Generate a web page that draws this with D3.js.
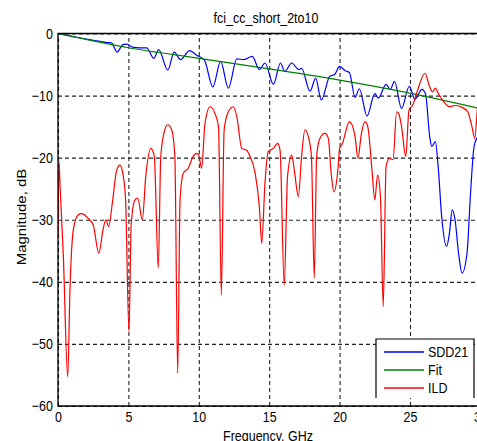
<!DOCTYPE html>
<html>
<head>
<meta charset="utf-8">
<script src="https://cdn.jsdelivr.net/npm/d3@7"></script>
<style>
  body { margin: 0; background: #fff; }
  svg { display: block; font-family: "Liberation Sans", Arial, sans-serif; }
</style>
</head>
<body>
<div class="canvas"></div>
<script>
const title = "fci_cc_short_2to10";
const xTicks = [0, 5, 10, 15, 20, 25, 30];
const yTicks = [-60, -50, -40, -30, -20, -10, 0];
const seriesNames = ["SDD21", "Fit", "ILD"];

const sddFreq = [0, 1, 2, 2.5, 3, 3.5, 3.8, 4.2, 4.6, 4.9, 5.3, 5.8, 6.3, 6.8, 7.15, 7.8, 8.25, 8.7, 9.35, 9.85, 10.4, 11, 11.55, 12.1, 12.7, 13.2, 13.8, 14.3, 14.7, 15.3, 15.8, 16.1, 16.6, 17.1, 17.3, 17.9, 18.3, 18.7, 19.3, 19.65, 20, 20.4, 20.7, 21.1, 21.4, 21.95, 22.5, 22.75, 23.3, 23.6, 23.9, 24.4, 24.95, 25.35, 25.85, 26.1, 26.4, 26.55, 26.8, 27, 27.25, 27.6, 27.8, 28, 28.2, 28.45, 28.7, 29.05, 29.3, 29.55, 29.8, 30];
const sddDb = [0, -0.45, -0.9, -1.1, -1.25, -1.45, -1.5, -3.0, -1.8, -1.7, -2.2, -2.3, -2.3, -4.0, -2.6, -5.9, -3.0, -4.2, -2.75, -3.5, -4.3, -8.6, -4.5, -8.8, -4.1, -4.2, -3.7, -5.8, -4.75, -8.2, -4.75, -6.1, -4.75, -5.8, -5.6, -9.3, -7.2, -10.7, -6.9, -6.6, -5.3, -6.0, -6.3, -10.3, -8.9, -13.3, -9.7, -10.4, -8.2, -9.0, -7.7, -12.1, -8.5, -10.6, -9.0, -9.7, -16.6, -18.2, -17.4, -21.4, -29.5, -34.3, -32.2, -28.4, -30.0, -35.4, -38.6, -35.4, -25.7, -18.2, -16.6, -15.5];

const fitFreq = [0, 2.5, 5, 10, 15, 20, 25, 30];
const fitDb = [0, -1.2, -2.3, -4.0, -5.7, -7.5, -9.6, -12.1];

const ildFreq = [0, 0.07, 0.15, 0.38, 0.69, 0.85, 1.09, 1.44, 1.68, 2.15, 2.5, 2.9, 3.2, 3.4, 3.6, 3.86, 4.17, 4.4, 4.6, 4.8, 5.04, 5.2, 5.47, 5.66, 5.99, 6.23, 6.6, 6.84, 7.12, 7.3, 7.55, 7.79, 8.07, 8.3, 8.5, 8.67, 8.9, 9.25, 9.6, 9.85, 10, 10.2, 10.44, 10.8, 11.15, 11.4, 11.6, 11.8, 12.1, 12.45, 12.7, 13.05, 13.4, 13.6, 14, 14.3, 14.47, 14.7, 14.94, 15.3, 15.6, 15.77, 16.07, 16.3, 16.6, 16.8, 17.07, 17.3, 17.54, 17.78, 18, 18.2, 18.37, 18.6, 18.96, 19.2, 19.4, 19.6, 19.9, 20, 20.2, 20.7, 21.1, 21.3, 21.55, 21.8, 22, 22.3, 22.5, 22.7, 22.9, 23.1, 23.3, 23.55, 23.8, 24.05, 24.2, 24.4, 24.7, 24.93, 25.2, 25.5, 26.07, 26.35, 26.6, 26.8, 27, 27.4, 27.8, 28.2, 28.6, 29.1, 29.4, 29.6, 29.8, 30];
const ildDb = [-32.7, -20.6, -24.7, -35.9, -55.3, -41.3, -31.6, -29.2, -29.0, -29.8, -30.8, -35.4, -31.6, -30.0, -31.1, -27.3, -22.0, -21.2, -22.5, -26.8, -48.0, -30.6, -26.8, -26.5, -30.0, -23.1, -18.5, -19.8, -37.8, -19.8, -15.8, -14.7, -15.5, -19.8, -54.7, -26.8, -22.5, -21.7, -19.8, -19.3, -19.6, -21.7, -14.5, -11.8, -12.9, -15.0, -42.1, -15.5, -12.6, -11.8, -13.4, -18.5, -18.8, -19.6, -22.5, -27.9, -33.8, -24.1, -19.0, -18.5, -17.7, -18.8, -40.5, -23.1, -19.6, -22.3, -26.3, -19.8, -15.5, -16.6, -19.8, -39.4, -19.8, -16.9, -16.1, -16.9, -22.5, -25.5, -21.4, -18.5, -17.7, -14.2, -16.6, -20.1, -16.1, -14.2, -15.0, -22.0, -26.8, -22.8, -26.3, -44.0, -21.4, -20.1, -20.3, -12.6, -12.9, -15.0, -19.8, -12.3, -11.5, -9.4, -6.4, -8.3, -9.4, -8.8, -9.6, -11.0, -11.8, -11.6, -11.8, -12.6, -15.0, -16.9, -11.8, -9.0];

const dimensions = { width: 477, height: 441 };
const plot = { left: 58, right: 480.4, top: 33.5, bottom: 406 };
const stretch = 1.2;

const svg = d3
  .select(".canvas")
  .append("svg")
  .attr("width", dimensions.width)
  .attr("height", dimensions.height);

const x = d3.scaleLinear().domain([0, 30]).range([plot.left, plot.right]);
const y = d3.scaleLinear().domain([-60, 0]).range([plot.bottom, plot.top]);

const color = d3
  .scaleOrdinal()
  .domain(seriesNames)
  .range(["#0000ff", "#008000", "#ff0000"]);

svg
  .append("defs")
  .append("clipPath")
  .attr("id", "clip")
  .append("rect")
  .attr("x", plot.left)
  .attr("y", plot.top)
  .attr("width", plot.right - plot.left)
  .attr("height", plot.bottom - plot.top);

// dashed grid
const gridX = svg
  .append("g")
  .attr("transform", `translate(0, ${plot.bottom})`)
  .call(
    d3.axisBottom(x).tickValues(xTicks).tickSize(-(plot.bottom - plot.top)).tickFormat("")
  );

const gridY = svg
  .append("g")
  .attr("transform", `translate(${plot.left}, 0)`)
  .call(
    d3.axisLeft(y).tickValues(yTicks).tickSize(-(plot.right - plot.left)).tickFormat("")
  );

[gridX, gridY].forEach((g) => {
  g.select(".domain").remove();
  g.selectAll("line")
    .attr("stroke", "#222")
    .attr("stroke-width", 1.1)
    .attr("stroke-dasharray", "4,3");
});

// curves
const line = d3
  .line()
  .curve(d3.curveMonotoneX)
  .x((d) => x(d.f))
  .y((d) => y(d.v));

const toPoints = (fs, vs) => fs.map((f, i) => ({ f, v: vs[i] }));

const series = [
  { name: "SDD21", points: toPoints(sddFreq, sddDb) },
  { name: "Fit", points: toPoints(fitFreq, fitDb) },
  { name: "ILD", points: toPoints(ildFreq, ildDb) },
];

svg
  .append("g")
  .attr("clip-path", "url(#clip)")
  .selectAll("path")
  .data(series)
  .enter()
  .append("path")
  .attr("fill", "none")
  .attr("stroke", (d) => color(d.name))
  .attr("stroke-width", 1.2)
  .attr("stroke-linejoin", "round")
  .attr("d", (d) => line(d.points));

// frame
svg
  .append("path")
  .attr("fill", "none")
  .attr("stroke", "#000")
  .attr("stroke-width", 1.3)
  .attr(
    "d",
    `M${plot.right},${plot.top}H${plot.left}V${plot.bottom}H${plot.right}Z`
  );

// tick labels
const xAxis = svg
  .append("g")
  .attr("transform", `translate(0, ${plot.bottom})`)
  .call(d3.axisBottom(x).tickValues(xTicks).tickSize(0).tickPadding(4.75));

const yAxis = svg
  .append("g")
  .attr("transform", `translate(${plot.left}, 0)`)
  .call(d3.axisLeft(y).tickValues(yTicks).tickSize(0).tickPadding(5));

[xAxis, yAxis].forEach((g) => {
  g.select(".domain").remove();
  g.selectAll("text")
    .attr("font-size", "12.5px")
    .attr("font-family", "Liberation Sans, Arial, sans-serif")
    .attr("fill", "#000")
    .attr("transform", `scale(1, ${stretch})`);
});

// titles
svg
  .append("text")
  .attr("transform", `translate(266, 23) scale(1, ${stretch})`)
  .attr("text-anchor", "middle")
  .attr("font-size", "12.5px")
  .text(title);

svg
  .append("text")
  .attr("transform", `translate(268, 441) scale(1, ${stretch})`)
  .attr("text-anchor", "middle")
  .attr("font-size", "12.5px")
  .text("Frequency, GHz");

svg
  .append("text")
  .attr("transform", `translate(26, 217) rotate(-90) scale(${stretch}, 1)`)
  .attr("text-anchor", "middle")
  .attr("font-size", "12.5px")
  .text("Magnitude, dB");

// legend
const legend = { x: 376, y: 339, width: 98, height: 59 };

const legendGroup = svg.append("g");

legendGroup
  .append("rect")
  .attr("x", legend.x)
  .attr("y", legend.y)
  .attr("width", legend.width)
  .attr("height", legend.height)
  .attr("fill", "#fff");

legendGroup
  .append("path")
  .attr("fill", "none")
  .attr("stroke", "#000")
  .attr("stroke-width", 1.2)
  .attr(
    "d",
    `M${legend.x},${legend.y + legend.height}V${legend.y}H${legend.x + legend.width}V${legend.y + legend.height}`
  );

const entries = legendGroup
  .selectAll("g.entry")
  .data(seriesNames)
  .enter()
  .append("g")
  .attr("class", "entry")
  .attr("transform", (d, i) => `translate(0, ${352 + i * 18})`);

entries
  .append("line")
  .attr("x1", 384)
  .attr("x2", 424)
  .attr("stroke", (d) => color(d))
  .attr("stroke-width", 1.3);

entries
  .append("text")
  .attr("transform", `translate(428, 4.5) scale(1, ${stretch})`)
  .attr("font-size", "12.5px")
  .text((d) => d);
</script>
</body>
</html>
